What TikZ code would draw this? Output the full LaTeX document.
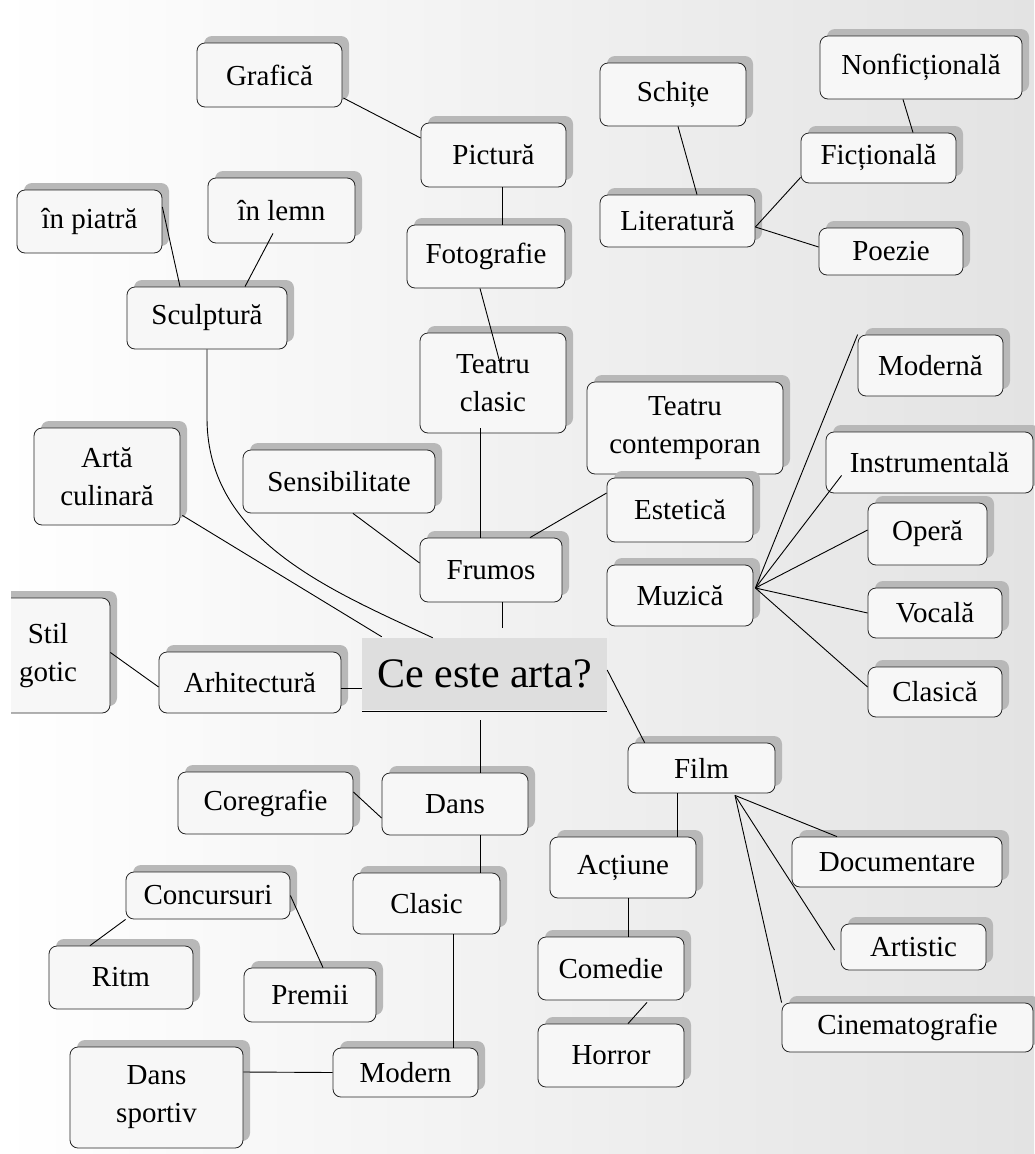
\documentclass[tikz,border=0pt]{standalone}
\usepackage{fontspec}
\setmainfont{Liberation Serif}
\usetikzlibrary{calc,shadows}
\newcommand\bxn[6]{\node[bx, minimum width=#4pt, minimum height=#5pt] (#1) at (#2,#3) {#6};}
\begin{document}
\begin{tikzpicture}[x=1pt,y=-1pt,
  bx/.style={draw=black!85, line width=0.8pt, rounded corners=8pt, fill=black!3,
    inner sep=0pt, align=center, font=\fontsize{29}{38}\selectfont,
    drop shadow={shadow xshift=7pt, shadow yshift=7pt, fill=black!28, opacity=1}},
  ln/.style={draw=black, line width=0.9pt}]
\useasboundingbox (0,0) rectangle (1034,1154);
\shade[left color=white, right color=black!11] (0,0) rectangle (1034,1154);

% top left
\bxn{graf}{269.5}{75}{145}{64}{Grafică}
\bxn{pic}{493.5}{155}{145}{64}{Pictură}
\bxn{foto}{486}{256.5}{158}{63}{Fotografie}
\bxn{piatra}{89.5}{221.5}{145}{63}{în piatră}
\bxn{lemn}{281.5}{210.5}{147}{65}{în lemn}
\bxn{sculpt}{207}{318}{160}{62}{Sculptură}
% literature
\bxn{schite}{673}{94.5}{146}{63}{Schițe}
\bxn{lit}{677.5}{221}{155}{52}{Literatură}
\bxn{nonf}{921}{67.5}{202}{63}{Nonficțională}
\bxn{fict}{878.5}{158}{155}{50}{Ficțională}
\bxn{poez}{891}{251.5}{144}{47}{Poezie}
% middle
\bxn{tclasic}{493}{383}{146}{100}{Teatru\\clasic}
\bxn{tcont}{685}{428}{196}{92}{Teatru\\contemporan}
\bxn{estetica}{680}{510}{146}{64}{Estetică}
\bxn{muzica}{680}{595.5}{146}{61}{Muzică}
\bxn{moderna}{930.5}{365.5}{145}{61}{Modernă}
\bxn{instr}{929.5}{462.5}{207}{61}{Instrumentală}
\bxn{opera}{927.5}{534}{119}{62}{Operă}
\bxn{vocala}{935}{613}{134}{50}{Vocală}
\bxn{clasica}{935}{692}{134}{50}{Clasică}
\bxn{culinara}{107}{476.5}{146}{97}{Artă\\culinară}
\bxn{sensib}{339}{481.5}{192}{63}{Sensibilitate}
\bxn{frumos}{491}{570}{142}{64}{Frumos}
\begin{scope}
\clip (11,0) rectangle (1034,1154);
\bxn{gotic}{48}{655.5}{124}{115}{Stil\\gotic}
\end{scope}
\bxn{arhit}{250}{682.5}{182}{61}{Arhitectură}
\node[fill=black!13, minimum width=245pt, minimum height=72pt, inner sep=0pt,
  font=\fontsize{42}{48}\selectfont] (ce) at (484.5,674) {Ce este arta?};
% bottom
\bxn{film}{701.5}{768}{147}{50}{Film}
\bxn{actiune}{623}{867.5}{146}{61}{Acțiune}
\bxn{comedie}{611}{968.5}{146}{63}{Comedie}
\bxn{horror}{611}{1055.5}{146}{63}{Horror}
\bxn{docum}{897}{862}{210}{50}{Documentare}
\bxn{artistic}{913.5}{947}{145}{46}{Artistic}
\bxn{cinema}{907.5}{1027.5}{251}{49}{Cinematografie}
\bxn{coregr}{265.5}{803}{175}{62}{Coregrafie}
\bxn{dans}{455}{804}{146}{62}{Dans}
\bxn{clasic}{426.5}{903.5}{147}{61}{Clasic}
\bxn{concurs}{208}{895.5}{164}{47}{Concursuri}
\bxn{ritm}{121}{977.5}{144}{63}{Ritm}
\bxn{premii}{310}{995}{132}{54}{Premii}
\bxn{sportiv}{156.5}{1097.5}{173}{101}{Dans\\sportiv}
\bxn{modern}{405.5}{1072.5}{145}{49}{Modern}

% connectors
\draw[ln] ($(graf.east)+(1,23)$) -- ($(pic.west)+(0,-17)$);
\draw[ln] ($(pic.south)+(8.5,0)$) -- ($(foto.north)+(16,0)$);
\draw[ln] ($(foto.south)+(-6,0)$) -- ($(tclasic.center)+(7,-20)$);
\draw[ln] ($(tclasic.south)+(-13,-5)$) -- ($(frumos.north)+(-11,0)$);
\draw[ln] ($(sensib.south)+(14,0)$) -- ($(frumos.west)+(0,-7)$);
\draw[ln] ($(estetica.west)+(0,-17)$) -- ($(frumos.north)+(39,0)$);
\draw[ln] ($(frumos.south)+(11,0)$) -- ($(ce.north)+(17.5,-10)$);
\draw[ln] ($(ce.south west)+(0,1)$) -- ($(ce.south east)+(0,1)$);
\draw[ln] (sculpt.south) -- ++(0,70) .. controls (208,540) and (330,590) .. ($(ce.north west)+(71,0)$);
\draw[ln] ($(culinara.south east)+(2,-10)$) -- ($(ce.north west)+(20,-1)$);
\draw[ln] ($(gotic.east)+(0,-3)$) -- ($(arhit.west)+(0,4.5)$);
\draw[ln] ($(arhit.east)+(0,5.5)$) -- ($(ce.west)+(0,14)$);
\draw[ln] ($(ce.south)+(-4.5,10)$) -- ($(dans.north)+(25,0)$);
\draw[ln] ($(coregr.east)+(0,-11)$) -- ($(dans.west)+(0,14)$);
\draw[ln] ($(dans.south)+(25,0)$) -- ($(clasic.north)+(53.5,0)$);
\draw[ln] ($(clasic.south)+(26.5,0)$) -- ($(modern.north)+(47.5,0)$);
\draw[ln] ($(sportiv.east)+(0,-25.5)$) -- (modern.west);
\draw[ln] (concurs.south west) -- ($(ritm.north)+(-31,0)$);
\draw[ln] (concurs.east) -- ($(premii.north)+(13,0)$);
\draw[ln] ($(ce.east)+(0,-4)$) -- ($(film.north west)+(17,0)$);
\draw[ln] ($(film.south)+(-24.5,0)$) -- ($(actiune.north)+(54,0)$);
\draw[ln] ($(actiune.south)+(5,0)$) -- ($(comedie.north)+(17,0)$);
\draw[ln] ($(comedie.south)+(36,2)$) -- ($(horror.north)+(17,0)$);
\coordinate (fh) at ($(film.south)+(33.5,2)$);
\draw[ln] (fh) -- ($(docum.north)+(-60,0)$);
\draw[ln] (fh) -- ($(artistic.west)+(-6,3)$);
\draw[ln] (fh) -- (cinema.north west);
\coordinate (mh) at ($(muzica.east)+(2,-7.5)$);
\draw[ln] (mh) -- (moderna.north west);
\draw[ln] (mh) -- ($(instr.south west)+(16,-18)$);
\draw[ln] (mh) -- ($(opera.west)+(0,-4)$);
\draw[ln] (mh) -- (vocala.west);
\draw[ln] (mh) -- ($(clasica.west)+(0,-5)$);
\draw[ln] ($(schite.south)+(5,0)$) -- ($(lit.north)+(19.5,0)$);
\draw[ln] ($(nonf.south)+(-18,0)$) -- ($(fict.north)+(34.5,0)$);
\draw[ln] ($(lit.east)+(0,6)$) -- ($(fict.south west)+(0,-6)$);
\draw[ln] ($(lit.east)+(0,6)$) -- ($(poez.west)+(0,-4.5)$);
\draw[ln] ($(piatra.east)+(0,-14.5)$) -- ($(sculpt.north)+(-27,0)$);
\draw[ln] ($(lemn.south)+(-8.5,-10)$) -- ($(sculpt.north)+(38,0)$);
\end{tikzpicture}
\end{document}
